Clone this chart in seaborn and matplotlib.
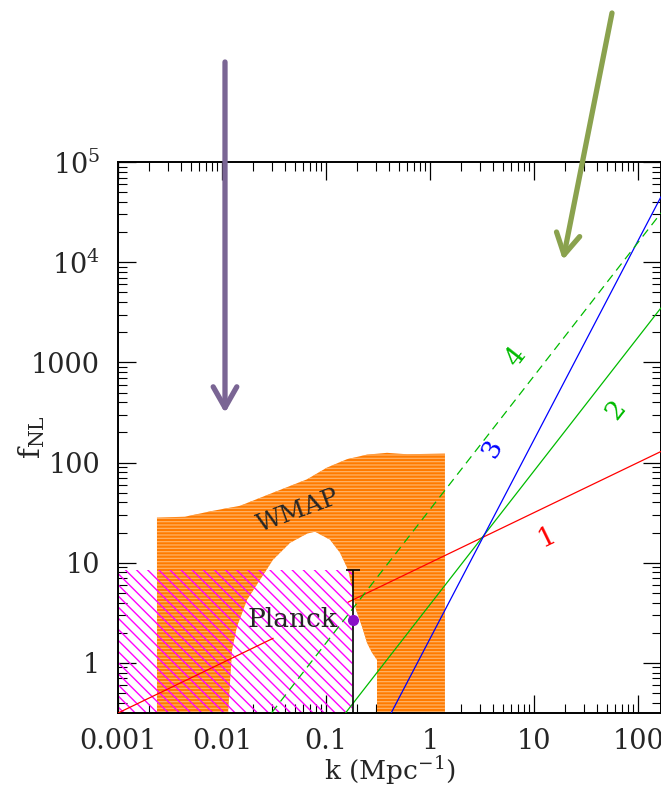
import numpy as np
import pandas as pd
import matplotlib
matplotlib.use("Agg")
import matplotlib.pyplot as plt
import seaborn as sns
from matplotlib.patches import Polygon, Rectangle, FancyArrowPatch
from matplotlib.ticker import LogLocator, NullFormatter, FixedLocator, FixedFormatter

# ---------------- data ----------------
# WMAP excluded band: upper boundary
wmap_upper_k = [0.00237, 0.0044, 0.0082, 0.0149, 0.0309, 0.0656, 0.102, 0.159, 0.248, 0.386, 0.601, 1.39]
wmap_upper_f = [28.2, 28.8, 33.0, 37.0, 50.0, 68.0, 89.0, 108.0, 120.0, 125.0, 121.0, 123.0]
# allowed "hole" inside the WMAP band (top of the white region)
hole_k = [0.01143, 0.01248, 0.0139, 0.0174, 0.0232, 0.0309, 0.0451, 0.0656, 0.0783,
          0.109, 0.136, 0.163, 0.182, 0.194, 0.222, 0.248, 0.277, 0.309, 0.309]
hole_f = [0.316, 1.35, 2.29, 4.27, 6.76, 10.7, 15.8, 19.5, 20.4,
          17.0, 12.6, 8.5, 5.0, 3.39, 2.29, 1.58, 1.26, 1.07, 0.316]

# Planck bound
planck_kmax = 0.178
planck_fmax = 8.5
planck_point_k = 0.18
planck_point_f = 2.7

# model lines (end points)
line1a_k, line1a_f = [0.001, 0.031], [0.316, 1.76]
line1b_k, line1b_f = [0.163, 166.0], [4.04, 129.0]
line2_k, line2_f = [0.1, 166.0], [0.178, 3500.0]
line3_k, line3_f = [0.3, 166.0], [0.16, 45000.0]
line4_k, line4_f = [0.03, 166.0], [0.318, 31000.0]

labels_text = ["1", "2", "3", "4"]
labels_k = [13.3, 60.0, 3.95, 6.56]
labels_f = [18.2, 339.0, 141.0, 1148.0]
labels_rot = [26, 52, 62, 52]
labels_col = ["#ff0000", "#00bb00", "#0000ff", "#00bb00"]

xticks = [0.001, 0.01, 0.1, 1, 10, 100]
xticklabels = ["0.001", "0.01", "0.1", "1", "10", "100"]
yticks = [1, 10, 100, 1000, 1e4, 1e5]
yticklabels = ["1", "10", "100", "1000", r"$\mathregular{10^{4}}$", r"$\mathregular{10^{5}}$"]

# ---------------- style ----------------
sns.set_theme(style="ticks")
plt.rcParams["font.family"] = ["DejaVu Serif"]
plt.rcParams["mathtext.fontset"] = "dejavuserif"
plt.rcParams["mathtext.default"] = "regular"

W, H = 661, 786
fig = plt.figure(figsize=(W / 100, H / 100), dpi=100)
L, R, T, B = 118, 661, 162, 713
ax = fig.add_axes([L / W, (H - B) / H, (R - L) / W, (B - T) / H])
ax.set_xscale("log")
ax.set_yscale("log")

# WMAP band polygon
verts = list(zip(wmap_upper_k, wmap_upper_f))
verts += [(wmap_upper_k[-1], 0.1), (hole_k[-1], 0.1)]
verts += list(zip(hole_k[::-1], hole_f[::-1]))
verts += [(hole_k[0], 0.1), (wmap_upper_k[0], 0.1)]
wmap = Polygon(verts, closed=True, facecolor="#ff7a00", edgecolor="#ffb266",
               hatch="-----", linewidth=0, zorder=1)
ax.add_patch(wmap)
try:
    wmap.set_hatch_linewidth(0.9)
except Exception:
    pass

# Planck hatched region
planck = Rectangle((1e-4, 0.1), planck_kmax - 1e-4, planck_fmax - 0.1,
                   facecolor="none", edgecolor="#ff00ff", hatch="\\\\\\",
                   linewidth=0, zorder=2)
ax.add_patch(planck)
try:
    planck.set_hatch_linewidth(1.0)
except Exception:
    pass

# model lines
kw = dict(ax=ax, sort=False, estimator=None, linewidth=0.9, zorder=3)
sns.lineplot(x=line1a_k, y=line1a_f, color="#ff0000", **kw)
sns.lineplot(x=line1b_k, y=line1b_f, color="#ff0000", **kw)
sns.lineplot(x=line2_k, y=line2_f, color="#00bb00", **kw)
sns.lineplot(x=line3_k, y=line3_f, color="#0000ff", **kw)
l4 = sns.lineplot(x=line4_k, y=line4_f, color="#00bb00", **kw).lines[-1]
l4.set_dashes((7, 4.5))

# Planck point with error bar
ax.errorbar([planck_point_k], [planck_point_f],
            yerr=[[planck_point_f - 0.05], [planck_fmax - planck_point_f]],
            fmt="o", color="#8a10c8", ecolor="black", elinewidth=1.2,
            capsize=5, capthick=1.2, markersize=7, zorder=5)

# texts
for t, kx, fy, rot, c in zip(labels_text, labels_k, labels_f, labels_rot, labels_col):
    ax.text(kx, fy, t, color=c, rotation=rot, fontsize=19, ha="center", va="center",
            rotation_mode="anchor", zorder=6)
ax.text(0.0537, 32.4, "WMAP", rotation=20, fontsize=18, ha="center", va="center",
        rotation_mode="anchor", zorder=6)
ax.text(0.048, 2.69, "Planck", fontsize=19, ha="center", va="center", zorder=6)

# axes
ax.set_xlim(1e-3, 166)
ax.set_ylim(10 ** -0.5, 1e5)
ax.xaxis.set_major_locator(FixedLocator(xticks))
ax.xaxis.set_major_formatter(FixedFormatter(xticklabels))
ax.yaxis.set_major_locator(FixedLocator(yticks))
ax.yaxis.set_major_formatter(FixedFormatter(yticklabels))
for a in (ax.xaxis, ax.yaxis):
    a.set_minor_locator(LogLocator(base=10, subs=np.arange(2, 10), numticks=100))
    a.set_minor_formatter(NullFormatter())
ax.tick_params(which="both", direction="in", top=True, right=True, color="black")
ax.tick_params(which="major", length=13, width=0.9, labelsize=19.5)
ax.tick_params(which="minor", length=6.5, width=0.8)
ax.tick_params(axis="y", which="major", pad=13)
ax.tick_params(axis="x", which="major", pad=11)
for s in ax.spines.values():
    s.set_linewidth(1.4)
    s.set_color("black")
ax.set_xlabel(r"k (Mpc$^{-1}$)", fontsize=19)
ax.xaxis.set_label_coords(0.5, -0.074)
ax.set_ylabel(r"f$_{\mathregular{NL}}$", fontsize=21)
ax.yaxis.set_label_coords(-0.13, 0.5)
ax.set_facecolor("white")

# annotation arrows (figure pixel coords)
def px(x, y):
    return (x / W, 1 - y / H)

for (x0, y0), (x1, y1), col in [((225, 62), (225, 413), "#7a6594"),
                                ((612, 13), (563, 260), "#8aa24e")]:
    arr = FancyArrowPatch(px(x0, y0), px(x1, y1), transform=fig.transFigure,
                          arrowstyle="->,head_length=1.5,head_width=0.85",
                          mutation_scale=10, linewidth=3.8, color=col,
                          shrinkA=0, shrinkB=0, zorder=10)
    fig.add_artist(arr)

fig.savefig("out.png", dpi=100)
